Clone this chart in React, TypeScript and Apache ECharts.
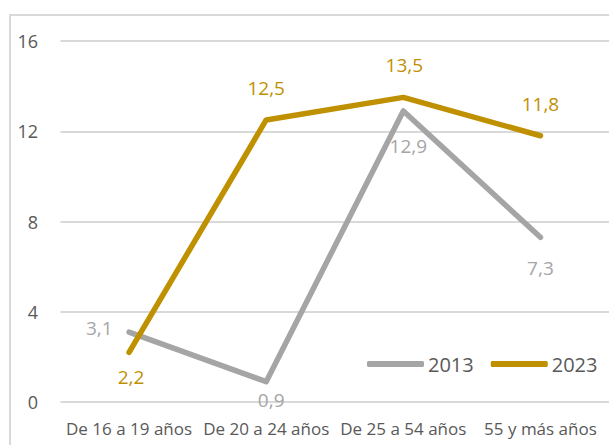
import React, { useEffect, useRef } from "react";
import * as echarts from "echarts";

const categories = ["De 16 a 19 años", "De 20 a 24 años", "De 25 a 54 años", "55 y más años"];
const series2013 = [3.1, 0.9, 12.9, 7.3];
const series2023 = [2.2, 12.5, 13.5, 11.8];
// label placement per point: [position, distance, offsetX, offsetY]
const labelPos2013: [string, number, number, number][] = [
  ["left", 16, 0, -4],
  ["bottom", 8, 5, 0],
  ["bottom", 25, 5, 0],
  ["bottom", 21, 0, 0],
];
const labelPos2023: [string, number, number, number][] = [
  ["bottom", 15, 2, 0],
  ["top", 22, 0, 0],
  ["top", 22, 1, 0],
  ["top", 22, 0, 0],
];

const FONT = "Open Sans";
const GRAY = "#A5A5A5";
const GOLD = "#BF9000";
const TEXT = "#595959";
const fmt = (v: number) => v.toFixed(1).replace(".", ",");

export default function App() {
  const ref = useRef<HTMLDivElement>(null);
  useEffect(() => {
    const chart = echarts.init(ref.current!, null, { renderer: "svg" });
    const mk = (vals: number[], pos: [string, number, number, number][], color: string) =>
      vals.map((v, i) => ({
        value: v,
        label: {
          show: true,
          position: pos[i][0],
          distance: pos[i][1],
          offset: [pos[i][2], pos[i][3]],
          color,
          fontSize: 19,
          fontFamily: FONT,
          formatter: (p: any) => fmt(p.value),
        },
      }));
    chart.setOption({
      animation: false,
      graphic: [
        {
          type: "rect",
          shape: { x: 10, y: 15, width: 640, height: 460 },
          style: { fill: "none", stroke: "#D9D9D9", lineWidth: 2 },
          silent: true,
          z: -1,
        },
      ],
      grid: { left: 60.5, right: -7.5, top: 41, bottom: 43 },
      legend: {
        left: 367,
        top: 354,
        padding: 0,
        itemWidth: 57,
        itemHeight: 6,
        itemGap: 17,
        icon: "roundRect",
        textStyle: { color: TEXT, fontSize: 20, fontFamily: FONT, padding: [0, 0, 0, -1] },
        data: ["2013", "2023"],
      },
      xAxis: {
        type: "category",
        data: categories,
        boundaryGap: true,
        axisLine: { show: false },
        axisTick: { show: false },
        axisLabel: { color: TEXT, fontSize: 17, fontFamily: FONT, margin: 18, interval: 0 },
      },
      yAxis: {
        type: "value",
        min: 0,
        max: 16,
        interval: 4,
        axisLine: { show: false },
        axisTick: { show: false },
        axisLabel: { color: TEXT, fontSize: 18, fontFamily: FONT, margin: 22.5 },
        splitLine: { lineStyle: { color: "#D9D9D9", width: 2 } },
      },
      series: [
        {
          name: "2013",
          type: "line",
          data: mk(series2013, labelPos2013, GRAY),
          color: GRAY,
          itemStyle: { color: GRAY },
          lineStyle: { width: 5.5, cap: "round", join: "round", color: GRAY },
          symbol: "circle",
          symbolSize: 1,
          showSymbol: true,
        },
        {
          name: "2023",
          type: "line",
          data: mk(series2023, labelPos2023, GOLD),
          color: GOLD,
          itemStyle: { color: GOLD },
          lineStyle: { width: 5.5, cap: "round", join: "round", color: GOLD },
          symbol: "circle",
          symbolSize: 1,
          showSymbol: true,
        },
      ],
    });
    return () => chart.dispose();
  }, []);
  return (
    <div
      ref={ref}
      style={{ position: "fixed", left: 0, top: 0, width: 609, height: 445, background: "#fff" }}
    />
  );
}
